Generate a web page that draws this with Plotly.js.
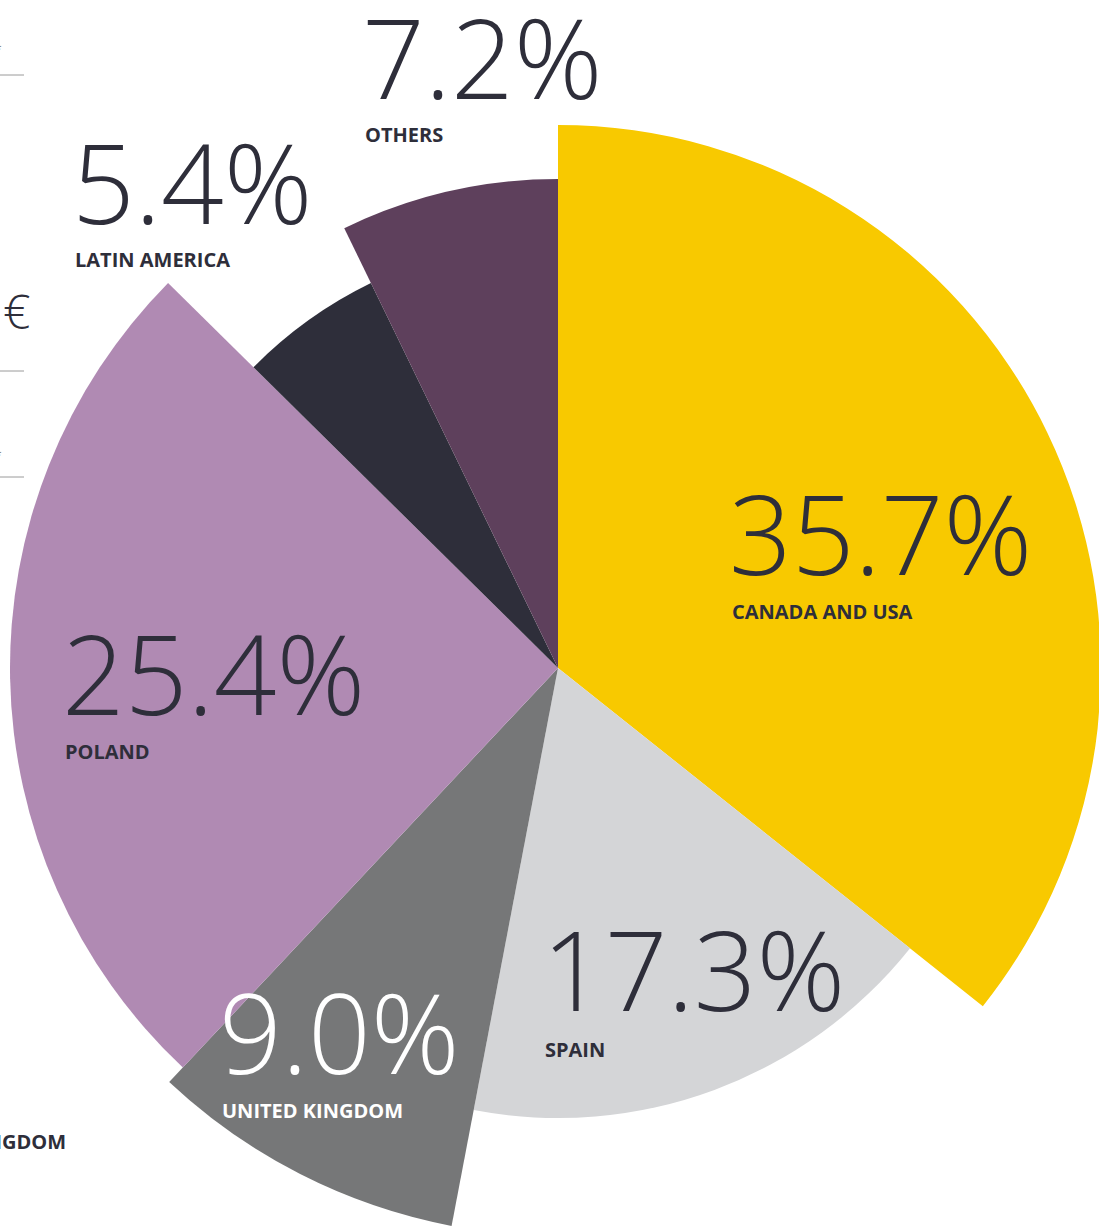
<!DOCTYPE html>
<html>
<head>
<meta charset="utf-8">
<script src="https://cdn.plot.ly/plotly-3.0.1.min.js"></script>
<style>
  html, body { margin: 0; padding: 0; background: #fff; overflow: hidden; width: 1099px; height: 1229px; }
  #chart { position: absolute; left: -30px; top: 0; }
</style>
</head>
<body>
<div id="chart"></div>
<script>
// regions, clockwise from 12 o'clock
const regions = ["CANADA AND USA", "SPAIN", "UNITED KINGDOM", "POLAND", "LATIN AMERICA", "OTHERS"];
const shares = [35.7, 17.3, 9.0, 25.4, 5.4, 7.2];
const radii = [543, 450, 568, 548, 428, 489];
const sliceColors = ["#f8c900", "#d4d5d7", "#767778", "#b08ab3", "#2e2e3a", "#5e405c"];

const W = 1180, H = 1260, SHIFT = 30;
const cx = 558 + SHIFT, cy = 668, R = 580;

// page pixel -> paper coords
const px = x => (x + SHIFT) / W;
const py = y => 1 - y / H;

let theta = [], widths = [];
let start = 0;
shares.forEach(s => {
    const w = s * 3.6;
    theta.push(start + w / 2);
    widths.push(w);
    start += w;
});

const data = [{
    type: "barpolar",
    r: radii,
    theta: theta,
    width: widths,
    marker: { color: sliceColors, line: { width: 0 } },
    hoverinfo: "skip"
}];

const dark = "#2e2e3a";
const numFont = (c) => ({ family: "Open Sans", size: 110, weight: 300, color: c });
const lblFont = (c) => ({ family: "Open Sans", size: 20, weight: 700, color: c });

// label placement on the page
const labelPos = {
    "CANADA AND USA": [732, 532, 611, dark],
    "SPAIN": [545, 968, 1049, dark],
    "UNITED KINGDOM": [222, 1031, 1110, "#ffffff"],
    "POLAND": [65, 672, 751, dark],
    "LATIN AMERICA": [75, 181, 260, dark],
    "OTHERS": [365, 56, 135, dark]
};

let annotations = [];
regions.forEach((name, i) => {
    const p = labelPos[name];
    annotations.push({
        xref: "paper", yref: "paper", x: px(p[0] - 5), y: py(p[1]),
        xanchor: "left", yanchor: "middle", showarrow: false,
        text: shares[i].toFixed(1) + "%", font: numFont(p[3])
    });
    annotations.push({
        xref: "paper", yref: "paper", x: px(p[0] - 2), y: py(p[2]),
        xanchor: "left", yanchor: "middle", showarrow: false,
        text: name, font: lblFont(p[3])
    });
});

// remnants of the neighbouring panel on the left edge
annotations.push({ xref: "paper", yref: "paper", x: px(68), y: py(1141), xanchor: "right", yanchor: "middle",
    showarrow: false, text: "UNITED KINGDOM", font: lblFont(dark) });
annotations.push({ xref: "paper", yref: "paper", x: px(32), y: py(310), xanchor: "right", yanchor: "middle",
    showarrow: false, text: "€", font: { family: "Open Sans", size: 48, weight: 300, color: dark } });
[50, 455].forEach(y => annotations.push({ xref: "paper", yref: "paper", x: px(4), y: py(y), xanchor: "right",
    yanchor: "middle", showarrow: false, text: "*", font: { family: "Open Sans", size: 12, color: "#777" } }));

const shapes = [75, 371, 477].map(y => ({
    type: "line", xref: "paper", yref: "paper", x0: px(-5), x1: px(24), y0: py(y), y1: py(y),
    line: { color: "#9a9a9a", width: 1 }
}));

const layout = {
    width: W, height: H,
    margin: { l: 0, r: 0, t: 0, b: 0 },
    paper_bgcolor: "#ffffff",
    showlegend: false,
    polar: {
        domain: { x: [(cx - R) / W, (cx + R) / W], y: [(H - cy - R) / H, (H - cy + R) / H] },
        bgcolor: "rgba(0,0,0,0)",
        bargap: 0,
        radialaxis: { range: [0, R], visible: false, showgrid: false },
        angularaxis: { rotation: 90, direction: "clockwise", visible: false, showgrid: false }
    },
    annotations: annotations,
    shapes: shapes
};

Plotly.newPlot("chart", data, layout, { staticPlot: true });
</script>
</body>
</html>
